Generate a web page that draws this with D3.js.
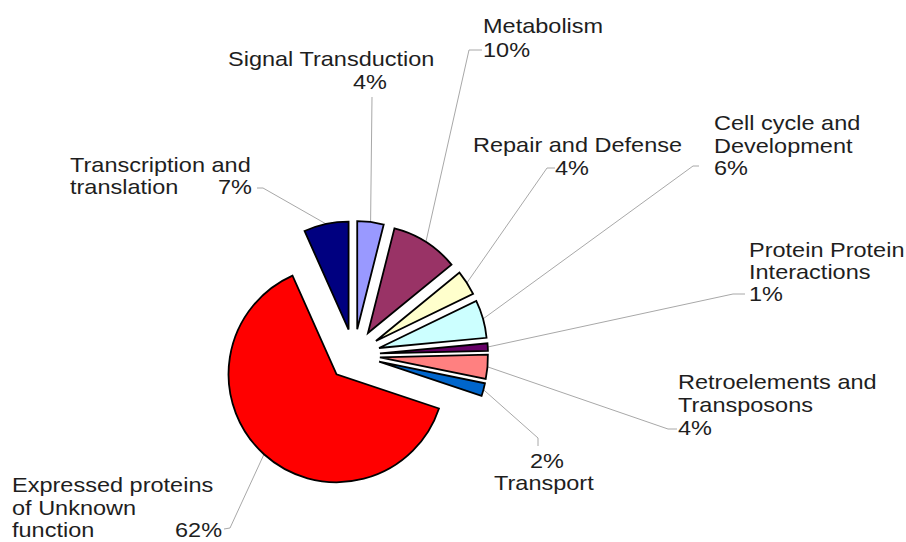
<!DOCTYPE html>
<html><head><meta charset="utf-8">
<script src="https://cdn.jsdelivr.net/npm/d3@7"></script>
<style>html,body{margin:0;padding:0;background:#fff;} svg{display:block}</style>
</head><body>
<svg id="chart" width="906" height="542"></svg>
<script>
// ---- data ----
const categories = ["Signal Transduction","Metabolism","Repair and Defense","Cell cycle and Development","Protein Protein Interactions","Retroelements and Transposons","Transport","Expressed proteins of Unknown function","Transcription and translation"];
const sliceValues = [3.9, 10.0, 3.7, 5.6, 1.1, 3.55, 1.9, 62.4, 6.6];
const pctLabels = ["4%","10%","4%","6%","1%","4%","2%","62%","7%"];
const nameLines = [["Signal Transduction"],["Metabolism"],["Repair and Defense"],["Cell cycle and","Development"],["Protein Protein","Interactions"],["Retroelements and","Transposons"],["Transport"],["Expressed proteins","of Unknown","function"],["Transcription and","translation"]];
const sliceColors = ["#9999ff","#993366","#ffffcc","#ccffff","#660066","#ff8080","#0066cc","#ff0000","#000080"];

// ---- layout (label placement) ----
const layout = [
  {name:[[228,66]], pct:[353,89], lead:[[372,97]]},
  {name:[[483,33]], pct:[483,57], lead:[[482,50],[469,50]]},
  {name:[[473,152]], pct:[555,175], lead:[[555,168],[547,168]]},
  {name:[[714,130],[714,153]], pct:[714,175], lead:[[699,166],[693,166]]},
  {name:[[749,257],[749,279]], pct:[749,301], lead:[[745,294],[733,294]]},
  {name:[[678,389],[678,412]], pct:[678,435], lead:[[677,429],[668,429]]},
  {name:[[494,490]], pct:[530,468], lead:[[538,446],[538,438]]},
  {name:[[12,492],[12,515],[12,537]], pct:[175,537], lead:[[224,529],[230,528]]},
  {name:[[70,172],[70,194]], pct:[218,194], lead:[[257,188],[263,188]]}
];
const cx = 354, cy = 355, R = 108, explode = 26;
const fontSize = 21, stretch = 1.12;

const svg = d3.select("#chart");
const pie = d3.pie().sort(null).value(d => d);
const arcs = pie(sliceValues);
const arc = d3.arc().innerRadius(0).outerRadius(R);

const dir = a => { const m = (a.startAngle + a.endAngle) / 2; return [Math.sin(m), -Math.cos(m)]; };

// leader lines
const lineGen = d3.line();
svg.append("g").selectAll("path").data(arcs).join("path")
  .attr("d", (a, i) => {
    const [dx, dy] = dir(a);
    const anchor = [cx + dx * (explode + R), cy + dy * (explode + R)];
    return lineGen(layout[i].lead.concat([anchor]));
  })
  .attr("fill", "none").attr("stroke", "#a8a8a8").attr("stroke-width", 1);

// slices
svg.append("g").selectAll("path").data(arcs).join("path")
  .attr("transform", a => { const [dx, dy] = dir(a); return `translate(${cx + dx * explode},${cy + dy * explode})`; })
  .attr("d", arc)
  .attr("fill", (a, i) => sliceColors[i])
  .attr("stroke", "#000").attr("stroke-width", 1.8).attr("stroke-linejoin", "miter");

// labels
const tg = svg.append("g").attr("font-family", "'Liberation Sans', Arial, sans-serif")
  .attr("font-size", fontSize).attr("fill", "#1e1e1e");
categories.forEach((c, i) => {
  nameLines[i].forEach((t, j) => {
    const [x, y] = layout[i].name[j];
    tg.append("text").attr("transform", `translate(${x},${y}) scale(${stretch},1)`).text(t);
  });
  const [px, py] = layout[i].pct;
  tg.append("text").attr("transform", `translate(${px},${py}) scale(${stretch},1)`).text(pctLabels[i]);
});
</script>
</body></html>
